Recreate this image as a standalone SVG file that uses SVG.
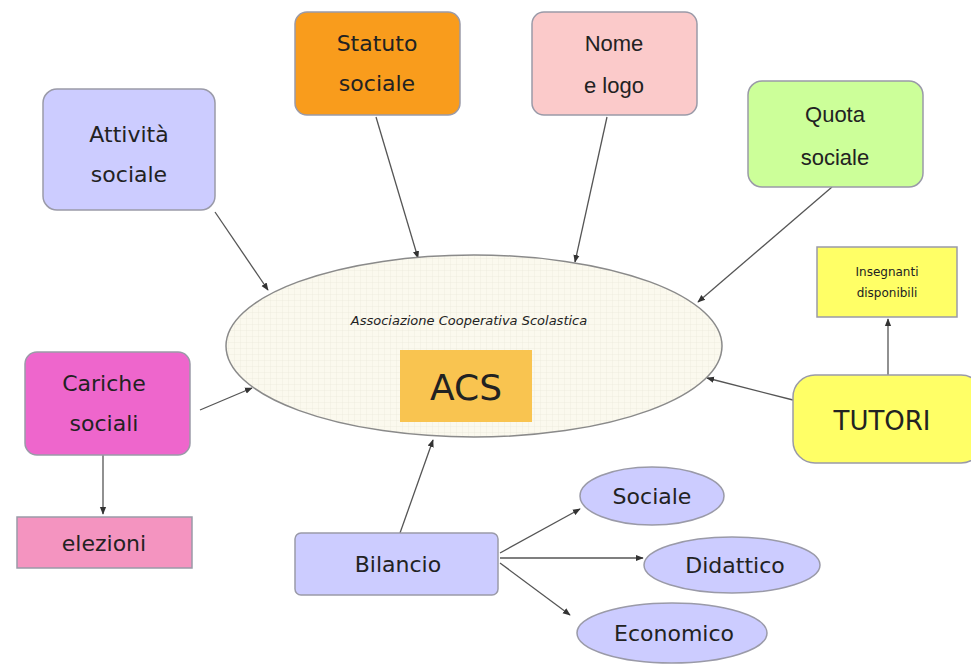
<svg xmlns="http://www.w3.org/2000/svg" width="971" height="665" viewBox="0 0 971 665">
<defs>
<style>
.t{font-family:"DejaVu Sans","Liberation Sans",sans-serif;fill:#222;text-anchor:middle}
.a{font-family:"Liberation Sans",Arial,sans-serif;fill:#222;text-anchor:middle}
.box{stroke:#9a9aa8;stroke-width:1.5}
.c{stroke:#555;stroke-width:1.3;fill:none;marker-end:url(#ar)}
</style>
<marker id="ar" viewBox="0 0 10 10" refX="9" refY="5" markerWidth="6" markerHeight="6" orient="auto">
<path d="M0,1 L10,5 L0,9 z" fill="#333"/>
</marker>
<pattern id="grid" width="6" height="6" patternUnits="userSpaceOnUse">
<rect width="6" height="6" fill="#fbf9ee"/>
<path d="M6,0 L0,0 L0,6" fill="none" stroke="#e6e4d6" stroke-width="0.6"/>
</pattern>
</defs>
<rect width="971" height="665" fill="#ffffff"/>

<g id="connectors">
<line class="c" x1="215" y1="212" x2="268" y2="290"/>
<line class="c" x1="376" y1="117" x2="418" y2="258"/>
<line class="c" x1="607" y1="117" x2="575" y2="262"/>
<line class="c" x1="832" y1="187" x2="698" y2="302"/>
<line class="c" x1="200" y1="410" x2="252" y2="388"/>
<line class="c" x1="793" y1="400" x2="707" y2="378"/>
<line class="c" x1="400" y1="533" x2="433" y2="440"/>
<line class="c" x1="888" y1="375" x2="888" y2="319"/>
<line class="c" x1="103" y1="455" x2="103" y2="514"/>
<line class="c" x1="500" y1="553" x2="580" y2="509"/>
<line class="c" x1="500" y1="558" x2="643" y2="558"/>
<line class="c" x1="500" y1="563" x2="570" y2="615"/>
</g>

<g id="acs">
<ellipse cx="474" cy="346" rx="248" ry="91" fill="url(#grid)" stroke="#8a8a8a" stroke-width="1.5"/>
<text class="t" x="469" y="325" font-size="13" font-style="italic" fill="#444">Associazione Cooperativa Scolastica</text>
<rect x="400" y="350" width="132" height="72" fill="#f9c450"/>
<text class="t" x="466" y="400" font-size="36">ACS</text>
</g>

<g id="attivita">
<rect class="box" x="43" y="89" width="172" height="121" rx="14" fill="#ccccff"/>
<text class="t" x="129" y="142" font-size="22">Attività</text>
<text class="t" x="129" y="182" font-size="22">sociale</text>
</g>

<g id="statuto">
<rect class="box" x="295" y="12" width="165" height="103" rx="12" fill="#f99c1c" stroke="#c87a10"/>
<text class="t" x="377" y="51" font-size="22">Statuto</text>
<text class="t" x="377" y="91" font-size="22">sociale</text>
</g>

<g id="nome">
<rect class="box" x="532" y="12" width="165" height="103" rx="12" fill="#fbcaca"/>
<text class="a" x="614" y="51" font-size="22">Nome</text>
<text class="a" x="614" y="93" font-size="22">e logo</text>
</g>

<g id="quota">
<rect class="box" x="748" y="81" width="175" height="106" rx="14" fill="#ccff99"/>
<text class="a" x="835" y="122" font-size="22">Quota</text>
<text class="a" x="835" y="165" font-size="22">sociale</text>
</g>

<g id="insegnanti">
<rect class="box" x="817" y="247" width="140" height="70" fill="#ffff66"/>
<text class="t" x="887" y="276" font-size="12">Insegnanti</text>
<text class="t" x="887" y="297" font-size="12">disponibili</text>
</g>

<g id="tutori">
<rect class="box" x="793" y="375" width="190" height="88" rx="22" fill="#ffff66"/>
<text class="t" x="882" y="430" font-size="26">TUTORI</text>
</g>

<g id="cariche">
<rect class="box" x="25" y="352" width="165" height="103" rx="12" fill="#ee66cc"/>
<text class="t" x="104" y="391" font-size="22" fill="#4a1a3a">Cariche</text>
<text class="t" x="104" y="431" font-size="22" fill="#4a1a3a">sociali</text>
</g>

<g id="elezioni">
<rect class="box" x="17" y="517" width="175" height="51" fill="#f494c0"/>
<text class="t" x="104" y="551" font-size="22">elezioni</text>
</g>

<g id="bilancio">
<rect class="box" x="295" y="533" width="203" height="62" rx="6" fill="#ccccff"/>
<text class="t" x="398" y="572" font-size="22">Bilancio</text>
</g>

<g id="sociale">
<ellipse class="box" cx="652" cy="496" rx="72" ry="29" fill="#ccccff"/>
<text class="t" x="652" y="504" font-size="22">Sociale</text>
</g>

<g id="didattico">
<ellipse class="box" cx="732" cy="565" rx="88" ry="28" fill="#ccccff"/>
<text class="t" x="735" y="573" font-size="22">Didattico</text>
</g>

<g id="economico">
<ellipse class="box" cx="672" cy="633" rx="95" ry="30" fill="#ccccff"/>
<text class="t" x="674" y="641" font-size="22">Economico</text>
</g>
</svg>
